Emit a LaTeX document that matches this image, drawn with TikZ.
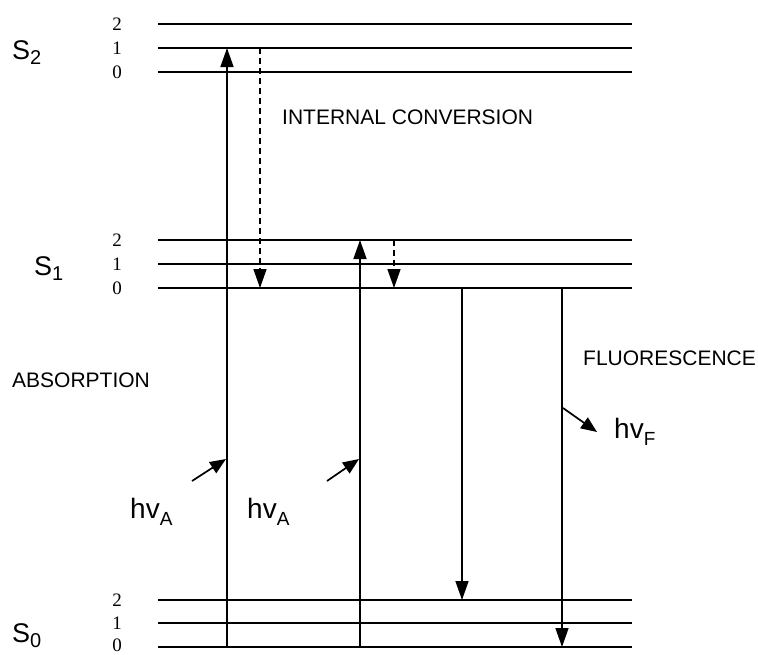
\documentclass[tikz,border=0pt]{standalone}
\usepackage{fontspec}
\setmainfont{Liberation Sans}
\newfontfamily\numfont{Liberation Serif}
\usetikzlibrary{arrows.meta}
\begin{document}
\begin{tikzpicture}[x=1pt,y=-1pt,
  level/.style={line width=1.7pt},
  trans/.style={line width=1.5pt,-{Triangle[width=13pt,length=19pt]}},
  ic/.style={trans,dash pattern=on 6pt off 4pt},
  photon/.style={line width=1.7pt,-{Triangle[width=13pt,length=16pt]}},
  lbl/.style={font=\fontsize{21}{23}\selectfont,inner sep=0pt},
  statelbl/.style={font=\fontsize{27}{29}\selectfont,inner sep=0pt,anchor=base west},
  num/.style={font=\numfont\fontsize{19}{20}\selectfont,inner sep=0pt},
  hv/.style={font=\fontsize{28}{30}\selectfont,inner sep=0pt}]
\useasboundingbox (0,0) rectangle (758,654);
% energy levels
\foreach \y/\n in {24/2,48/1,72/0,240/2,264/1,288/0,600/2,623/1}{
  \draw[level] (158,\y) -- (632,\y);
  \node[num] (n\y) at (117,\y) {\n};
}
\draw[level] (158,647) -- (632,647);
\node[num] (n647) at (117,645) {0};
% state labels
\node[statelbl] (S2) at (12,59) {S\raisebox{-0.22em}{\fontsize{20}{22}\selectfont 2}};
\node[statelbl] (S1) at (34,275) {S\raisebox{-0.22em}{\fontsize{20}{22}\selectfont 1}};
\node[statelbl] (S0) at (12,642) {S\raisebox{-0.22em}{\fontsize{20}{22}\selectfont 0}};
% text labels
\node[lbl,anchor=west] (ic) at (282,117) {INTERNAL CONVERSION};
\node[lbl,anchor=west] (abs) at (12,380) {ABSORPTION};
\node[lbl,anchor=west] (fl) at (583,358) {FLUORESCENCE};
% coordinates for transitions
\coordinate (a1s) at (227,647); \coordinate (a1e) at (227,48);
\coordinate (i1s) at (260,48);  \coordinate (i1e) at (260,288);
\coordinate (a2s) at (360,647); \coordinate (a2e) at (360,240);
\coordinate (i2s) at (394,240); \coordinate (i2e) at (394,288);
\coordinate (f1s) at (462,288); \coordinate (f1e) at (462,600);
\coordinate (f2s) at (562,288); \coordinate (f2e) at (562,647);
\draw[trans] (a1s) -- (a1e);
\draw[ic] (i1s) -- (i1e);
\draw[trans] (a2s) -- (a2e);
\draw[ic] (i2s) -- (i2e);
\draw[trans] (f1s) -- (f1e);
\draw[trans] (f2s) -- (f2e);
% photons
\coordinate (p1s) at (192,481); \coordinate (p1e) at (226,459);
\coordinate (p2s) at (327,481); \coordinate (p2e) at (359,459);
\coordinate (p3s) at (563,408); \coordinate (p3e) at (597,432);
\draw[photon] (p1s) -- (p1e);
\draw[photon] (p2s) -- (p2e);
\draw[photon] (p3s) -- (p3e);
\node[hv,anchor=west] (hvA1) at (130,512) {hv\raisebox{-0.25em}{\fontsize{19}{20}\selectfont A}};
\node[hv,anchor=west] (hvA2) at (247,512) {hv\raisebox{-0.25em}{\fontsize{19}{20}\selectfont A}};
\node[hv,anchor=west] (hvF) at (614,432) {hv\raisebox{-0.25em}{\fontsize{19}{20}\selectfont F}};
\end{tikzpicture}
\end{document}
